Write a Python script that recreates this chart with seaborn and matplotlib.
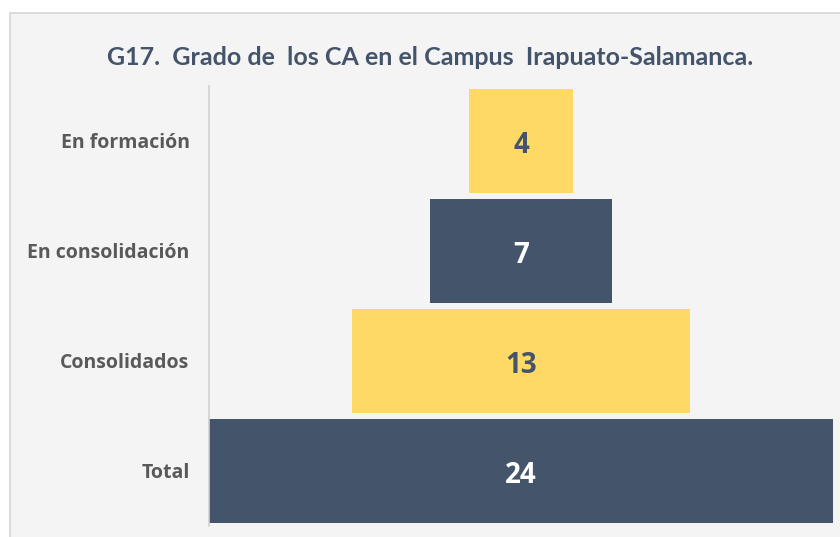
import matplotlib
matplotlib.use('Agg')
import matplotlib.pyplot as plt
import seaborn as sns
import pandas as pd
from matplotlib.patches import Rectangle

categories = ['En formación', 'En consolidación', 'Consolidados', 'Total']
values = [4, 7, 13, 24]
colors = ['#FFD966', '#44546A', '#FFD966', '#44546A']
label_colors = ['#44546A', 'white', '#44546A', 'white']

sns.set_theme(style='white')
plt.rcParams['font.family'] = ['Open Sans', 'DejaVu Sans']

df = pd.DataFrame({'categoria': categories, 'valor': values})

fig = plt.figure(figsize=(8.4, 5.37), dpi=100)
fig.patch.set_facecolor('white')
# chart area panel
fig.patches.append(Rectangle((10 / 840, -0.05), 1.0, 1 - 13 / 537 + 0.05,
                             transform=fig.transFigure, facecolor='#f4f4f4',
                             edgecolor='#d6d6d6', linewidth=1.2, zorder=-5))

ax = fig.add_axes([209 / 840, 11 / 537, 624 / 840, 440 / 537])
ax.set_facecolor('none')
ax.set_zorder(2)
sns.barplot(data=df, x='valor', y='categoria', hue='categoria', palette=colors,
            orient='h', width=0.94, saturation=1, linewidth=0, legend=False, ax=ax)

# center the bars to form the funnel
for p in ax.patches:
    p.set_x(-p.get_width() / 2)

for i, (v, c) in enumerate(zip(values, label_colors)):
    ax.text(0, i + 0.04, str(v), ha='center', va='center', fontsize=20,
            fontweight='bold', color=c)

ax.set_xlim(-12, 12)
ax.set_ylim(3.5, -0.5)
ax.set_xlabel('')
ax.set_ylabel('')
ax.set_xticks([])
ax.tick_params(axis='y', length=0, pad=14, labelsize=14, labelcolor='#595959')
for lbl in ax.get_yticklabels():
    lbl.set_fontweight('bold')
for s in ['top', 'right', 'bottom']:
    ax.spines[s].set_visible(False)
ax.spines['left'].set_color('#d0d0d0')
ax.spines['left'].set_linewidth(1.2)

fig.text(430 / 840, 1 - 57 / 537, 'G17.  Grado de  los CA en el Campus  Irapuato-Salamanca.',
         ha='center', va='center', fontsize=18, fontweight='bold', color='#44546A',
         family=['Lato', 'DejaVu Sans'])

fig.savefig('out.png', dpi=100)
